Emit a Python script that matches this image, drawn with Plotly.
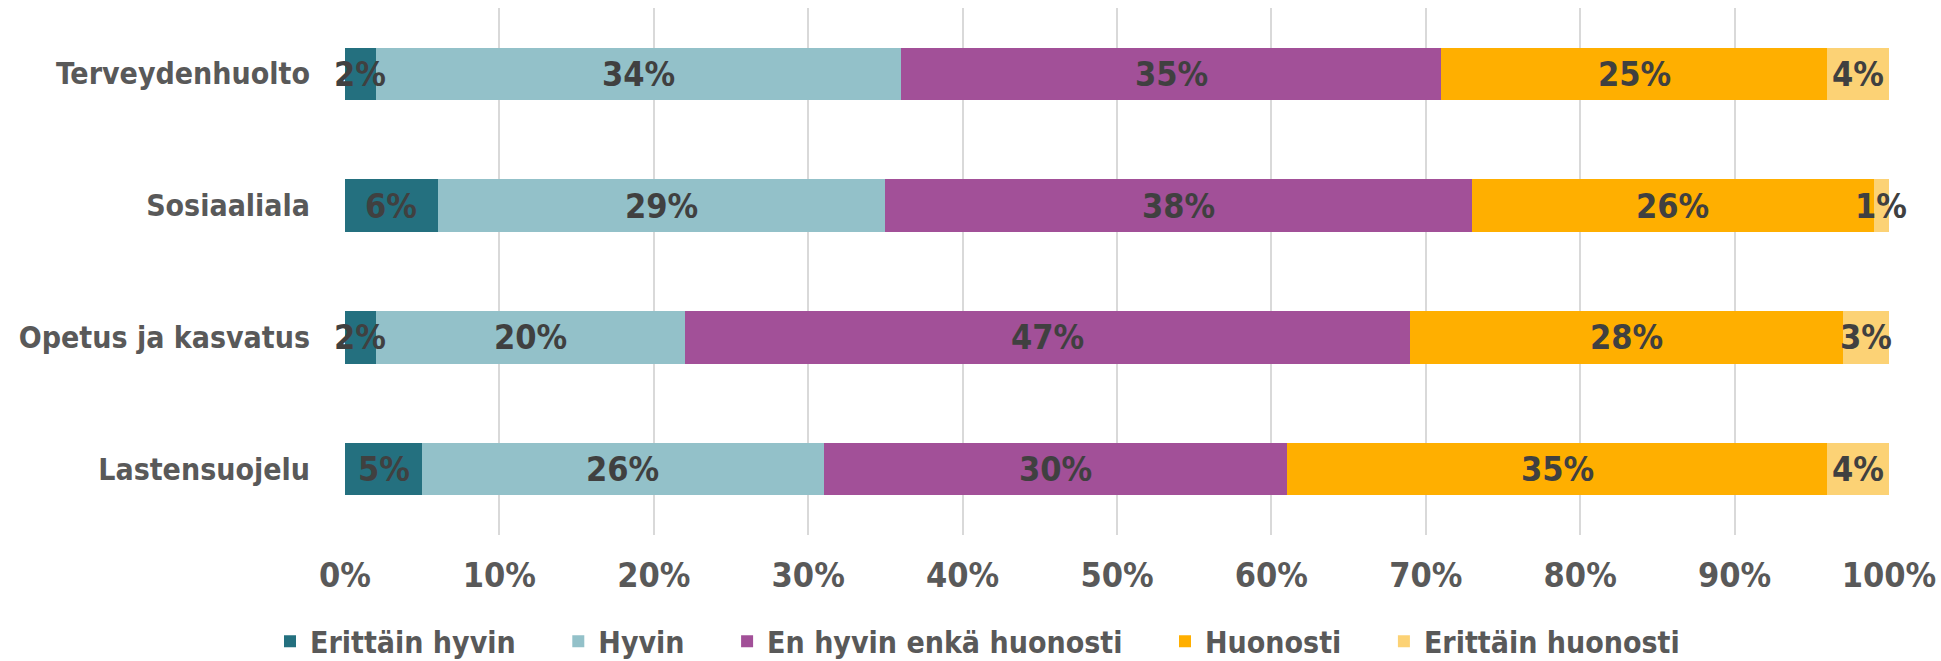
import plotly.graph_objects as go

categories = ["Terveydenhuolto", "Sosiaaliala", "Opetus ja kasvatus", "Lastensuojelu"]
series_names = ["Erittäin hyvin", "Hyvin", "En hyvin enkä huonosti", "Huonosti", "Erittäin huonosti"]
erittain_hyvin = [2, 6, 2, 5]
hyvin = [34, 29, 20, 26]
ei_hyvin_ei_huonosti = [35, 38, 47, 30]
huonosti = [25, 26, 28, 35]
erittain_huonosti = [4, 1, 3, 4]
tick_values = [0, 10, 20, 30, 40, 50, 60, 70, 80, 90, 100]
tick_labels = ["0%", "10%", "20%", "30%", "40%", "50%", "60%", "70%", "80%", "90%", "100%"]

colors = ["#24707F", "#93C1C9", "#A25098", "#FFAF00", "#FCD275"]
series_values = [erittain_hyvin, hyvin, ei_hyvin_ei_huonosti, huonosti, erittain_huonosti]

FONT = "DejaVu Sans Condensed, DejaVu Sans, sans-serif"
PAD = "\u00a0\u00a0\u00a0\u00a0"

fig = go.Figure()
for name, vals, col in zip(series_names, series_values, colors):
    fig.add_trace(go.Bar(
        y=categories, x=vals, name=name + PAD, orientation="h",
        marker=dict(color=col, line=dict(width=0)),
        hovertemplate=name + ": %{x}%<extra></extra>",
    ))

annotations = []
for ci, cat in enumerate(categories):
    cum = 0
    for vals in series_values:
        v = vals[ci]
        annotations.append(dict(
            x=cum + v / 2, y=cat, xref="x", yref="y", text=f"{v}%",
            showarrow=False, xanchor="center", yanchor="middle",
            font=dict(family=FONT, size=34, color="#404040", weight="bold"),
        ))
        cum += v

fig.update_layout(
    barmode="stack",
    bargap=0.6,
    width=1941, height=661,
    margin=dict(l=345, r=52, t=8, b=126, autoexpand=False),
    plot_bgcolor="white", paper_bgcolor="white",
    annotations=annotations,
    showlegend=True,
    legend=dict(
        orientation="h", xref="container", yref="container",
        x=270 / 1941, xanchor="left", y=0.03, yanchor="middle",
        font=dict(family=FONT, size=30, color="#595959", weight="bold"),
        traceorder="normal", itemclick=False,
    ),
    xaxis=dict(
        range=[0, 100], tickvals=tick_values, ticktext=tick_labels,
        showgrid=True, gridcolor="#D9D9D9", gridwidth=1.5,
        zeroline=False, showline=False, automargin=False,
        ticks="outside", ticklen=10, tickcolor="rgba(0,0,0,0)",
        tickfont=dict(family=FONT, size=34, color="#595959", weight="bold"),
    ),
    yaxis=dict(
        autorange="reversed", showgrid=False, zeroline=False, showline=False,
        automargin=False,
        ticks="outside", ticklen=28, tickcolor="rgba(0,0,0,0)",
        tickfont=dict(family=FONT, size=30, color="#595959", weight="bold"),
    ),
)

fig.write_html(
    "out.html",
    config={"displayModeBar": False},
    post_script="document.body.style.margin='0';document.body.style.overflow='hidden';",
)
